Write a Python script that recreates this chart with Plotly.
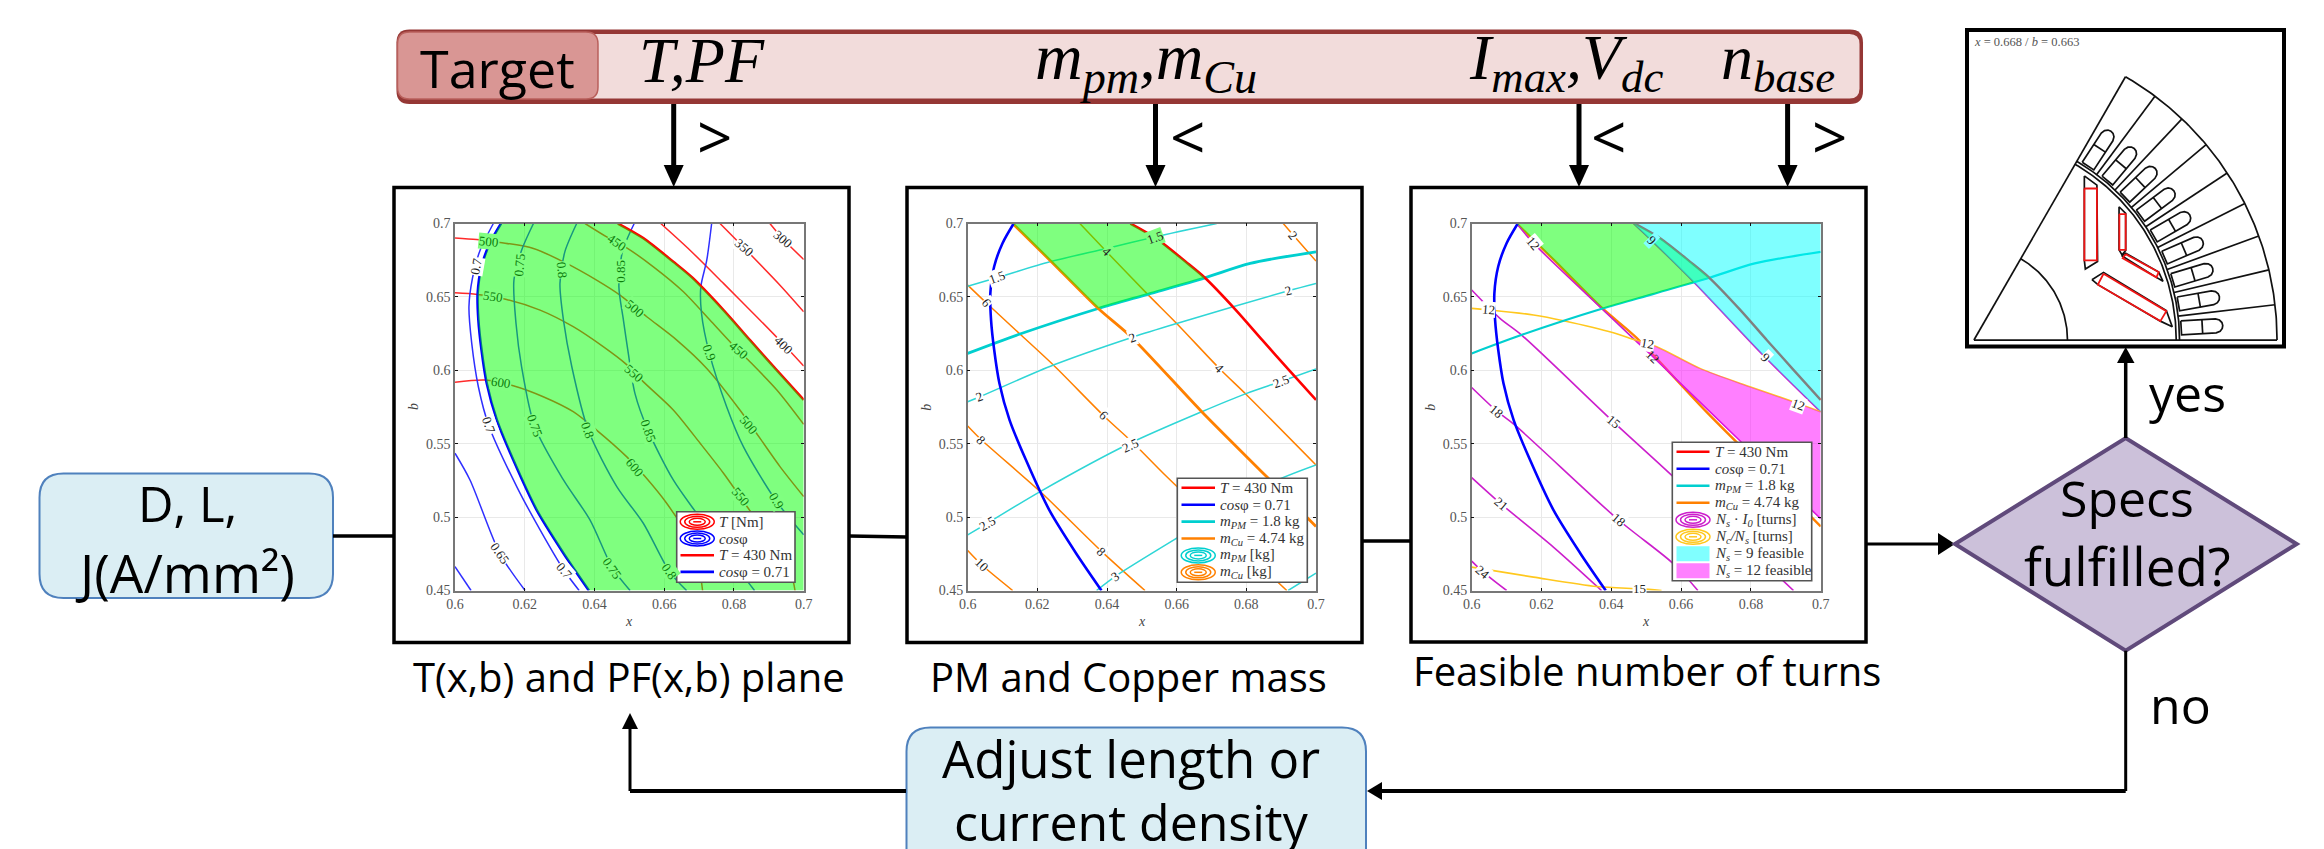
import numpy as np
import plotly.graph_objects as go

W, H = 2324, 849

# ---------- axis labels ----------
x_ticks = [0.6, 0.62, 0.64, 0.66, 0.68, 0.7]
x_tick_text = ["0.6", "0.62", "0.64", "0.66", "0.68", "0.7"]
y_ticks = [0.45, 0.5, 0.55, 0.6, 0.65, 0.7]
y_tick_text = ["0.45", "0.5", "0.55", "0.6", "0.65", "0.7"]

# ---------- shared limit curves ----------
cos71_x = [.6132, .6100, .6076, .6065, .6067, .6076, .6091, .6120, .6167, .6234, .6311, .6384]
cos71_y = [.7, .6866, .6707, .6525, .6344, .6140, .5912, .5662, .5390, .5049, .4754, .45]
t430_x = [.6467, .6540, .6626, .6681, .6770, .6846, .6922, .7]
t430_y = [.7, .690, .6739, .663, .641, .6205, .6003, .5798]
pm18_x = [.6, .615, .6375, .6519, .6681, .6811, .7]
pm18_y = [.6115, .6247, .6421, .6519, .663, .6728, .6807]
cu474_x = [.6129, .6236, .6375, .6471, .6672, .6858, .7]
cu474_y = [.7, .675, .6421, .6224, .5718, .5276, .4936]

# ---------- panel 1: torque contours ----------
t300 = ([.6903, .6942, .7], [.7, .6891, .6755])
t350 = ([.676, .6829, .6932, .7], [.7, .6834, .658, .6399])
t400 = ([.659, .6674, .677, .6865, .6944, .7], [.7, .6818, .6592, .6365, .6172, .6029])
t450 = ([.6373, .6435, .6488, .6569, .6655, .6731, .6793, .6841, .6923, .7],
        [.7, .6909, .6841, .6705, .6535, .6342, .6183, .607, .5866, .5632])
t500 = ([.6, .6062, .6129, .6225, .632, .6406, .6473, .655, .6636, .6722, .6817, .6932, .7],
        [.6902, .6891, .6871, .683, .6728, .6614, .6512, .6365, .6206, .6013, .573, .5344, .514])
t550 = ([.6, .6064, .6148, .6244, .6339, .6425, .6488, .6545, .6626, .6703, .677, .6841, .6913, .6966, .6975],
        [.6528, .6517, .6483, .641, .6297, .6161, .6047, .5911, .573, .5503, .5299, .506, .4822, .4595, .45])
t600 = ([.6, .6086, .6167, .6253, .6339, .6406, .6492, .6545, .6607, .6674, .6698, .671],
        [.5918, .5934, .5895, .582, .5718, .5593, .5412, .5276, .5094, .4845, .4686, .45])
torque_curves = [t300, t350, t400, t450, t500, t550, t600]

# ---------- panel 1: power factor contours ----------
c65a = ([.6, .6043, .6129, .6201], [.5435, .5253, .475, .45])
c65b = ([.6, .6046], [.4663, .45])
c70 = ([.611, .6072, .605, .604, .6048, .6067, .6097, .6177, .6244, .6313, .6356],
       [.7, .6818, .6626, .6433, .6183, .5888, .5623, .5208, .4913, .4636, .45])
c75 = ([.6225, .6191, .6169, .6175, .6191, .6228, .6311, .6387, .6452, .6502],
       [.7, .6818, .6614, .6319, .6024, .5621, .5253, .4981, .4652, .45])
c80 = ([.6349, .6315, .6301, .6311, .6335, .6382, .6464, .654, .6615, .6664],
       [.7, .6807, .6592, .6342, .6024, .5593, .5208, .4958, .4629, .45])
c85 = ([.6514, .648, .647, .6483, .6497, .6516, .6554, .6626, .6693, .677, .6859],
       [.7, .6807, .6569, .6342, .6115, .5843, .5589, .5253, .5026, .4777, .45])
c90 = ([.6736, .6722, .6705, .6707, .6729, .6779, .6827, .6921, .7],
       [.7, .675, .6569, .6387, .612, .5752, .548, .511, .4879])
pf_curves = [c65a, c65b, c70, c75, c80, c85, c90]

# ---------- panel 2: mass contours ----------
cu2 = ([.6906, .6935, .7], [.7, .692, .6744])
cu4 = ([.6322, .6399, .6514, .66, .6724, .6801, .7], [.7, .6807, .6524, .6319, .6009, .5832, .5355])
cu6 = ([.6, .6053, .615, .6246, .6391, .6476, .6571, .6916], [.658, .646, .6247, .6036, .5689, .5503, .5276, .45])
cu8 = ([.6, .604, .6208, .6385, .6509], [.5621, .5525, .5174, .4765, .45])
cu10 = ([.6, .604, .6129], [.4772, .4675, .45])
copper_curves = [cu2, cu4, cu6, cu8, cu10]

pm15 = ([.6, .6083, .6236, .6399, .6538, .6715], [.6573, .663, .6739, .683, .6909, .7])
pm20 = ([.6, .6035, .6246, .6471, .66, .6921, .7], [.5786, .582, .6036, .6224, .6319, .6542, .6592])
pm25 = ([.6, .6056, .6208, .6466, .6672, .6801, .6897, .7], [.4879, .4958, .5174, .5503, .5718, .5843, .5922, .6009])
pm30 = ([.637, .6423, .66, .6858, .7], [.45, .4595, .4856, .5219, .5355])
pm35 = ([.692, .7], [.45, .4618])
magnet_curves = [pm15, pm20, pm25, pm30, pm35]

# ---------- panel 3: turn contours ----------
n9 = ([.6463, .6516, .6635, .6842, .7], [.7, .6882, .6604, .6086, .5717])
n12 = ([.6129, .6177, .6372, .6468, .6511, .6759, .7], [.7, .6866, .6422, .6206, .6111, .5542, .4989])
n15 = ([.6, .6081, .6143, .6406, .6568, .6922], [.6547, .6354, .624, .5649, .5296, .45])
n18 = ([.6, .6072, .6124, .642, .6578, .6648], [.5883, .5722, .5626, .4982, .4682, .45])
n21 = ([.6, .6081, .6234, .6372], [.5269, .5096, .4796, .45])
n24 = ([.6, .6033, .61], [.47, .4625, .45])
turn_curves = [n9, n12, n15, n18, n21, n24]

y12 = ([.6, .6053, .6177, .6263, .6406, .6468, .653, .6654, .6797, .6936, .7],
       [.6422, .6411, .6377, .6338, .6256, .6206, .6161, .6013, .5888, .5774, .5717])
y15 = ([.6, .6177, .6358, .6482, .6544], [.4659, .4591, .4527, .4511, .45])
ratio_curves = [y12, y15]

# ---------- contour labels: text, x, y, angle, text colour, background ----------
G, LG, BK, WH = "#0b7d0b", "#80ff80", "#222222", "#ffffff"
labels_1 = [
    ("500", .6098, .688, 5, G, LG), ("550", .611, .65, 8, G, LG), ("600", .6132, .5916, 8, G, LG),
    ("450", .6464, .6871, 35, G, LG), ("500", .6516, .6422, 40, G, LG), ("550", .6514, .5979, 40, G, LG),
    ("450", .6815, .6138, 40, G, LG), ("500", .6844, .5627, 50, G, LG), ("550", .6819, .514, 50, G, LG),
    ("600", .6516, .5339, 50, G, LG), ("400", .6944, .6172, 45, BK, WH), ("350", .6829, .6834, 40, BK, WH),
    ("300", .6942, .6891, 40, BK, WH), ("0.7", .6059, .671, -80, BK, WH), ("0.7", .6097, .5623, 70, BK, WH),
    ("0.7", .6313, .4636, 50, BK, WH), ("0.65", .6129, .475, 55, BK, WH), ("0.75", .6184, .6716, -85, G, LG),
    ("0.75", .6228, .5621, 70, G, LG), ("0.75", .6452, .4652, 55, G, LG), ("0.8", .6308, .6682, 85, G, LG),
    ("0.8", .6382, .5593, 70, G, LG), ("0.8", .6615, .4629, 55, G, LG), ("0.85", .6476, .6678, -90, G, LG),
    ("0.85", .6554, .5589, 70, G, LG), ("0.9", .6729, .612, 70, G, LG), ("0.9", .6921, .511, 60, G, LG),
]
labels_2 = [
    ("1.5", .6083, .663, -20, BK, WH), ("1.5", .6538, .6905, -20, BK, LG), ("2", .6921, .6542, -15, BK, WH),
    ("2", .6035, .582, -20, BK, WH), ("2.5", .6899, .5922, -20, BK, WH), ("2.5", .6466, .5491, -25, BK, WH),
    ("2.5", .6056, .4958, -30, BK, WH), ("3", .6423, .4595, -35, BK, WH), ("2", .6935, .692, 50, BK, WH),
    ("4", .6399, .6807, 45, BK, LG), ("4", .6724, .6013, 45, BK, WH), ("6", .6053, .646, 50, BK, WH),
    ("2", .6473, .6224, -20, BK, WH), ("6", .6391, .5689, 45, BK, WH), ("8", .604, .5525, 45, BK, WH),
    ("8", .6383, .4765, 45, BK, WH), ("10", .604, .4675, 45, BK, WH),
]
labels_3 = [
    ("12", .6177, .6866, 50, BK, WH), ("9", .6516, .6882, 45, BK, "#80ffff"), ("9", .6842, .6086, 45, BK, WH),
    ("12", .6936, .5769, 20, BK, WH), ("12", .6503, .6183, 10, BK, WH), ("12", .6518, .6092, 45, BK, "rgba(0,0,0,0)"),
    ("12", .6048, .6411, 5, BK, WH), ("15", .6406, .5649, 40, BK, WH), ("18", .6072, .5722, 40, BK, WH),
    ("18", .642, .4982, 40, BK, WH), ("21", .6084, .5096, 40, BK, WH), ("24", .6033, .4625, 40, BK, WH),
    ("15", .6482, .4511, 0, BK, WH),
]

# ---------- motor cross-section ----------
motor_r_outer, motor_r_stator, motor_r_rotor, motor_r_shaft = 917, 622, 612, 283
slot_u = [628, 733, 745, 752, 754, 752, 745, 733, 628, 628]
slot_v = [21, 21, 17, 9, 0, -9, -17, -21, -21, 21]
slot_div = 692
pockets = [
    ([334, 372, 374, 337, 334, 334], [495, 467, 237, 214, 240, 495]),
    ([357, 392, 582, 600, 564, 375, 357], [182, 204, 89, 40, 57, 167, 182]),
    ([439, 459, 459, 448, 439, 439], [402, 382, 270, 257, 272, 402]),
    ([447, 459, 559, 572, 552, 447], [254, 262, 205, 177, 189, 254]),
]
magnets = [
    ([334, 372, 372, 334, 334], [457, 457, 240, 240, 457]),
    ([392, 582, 564, 375, 392], [200, 87, 57, 167, 200]),
    ([440, 459, 459, 440, 440], [380, 380, 272, 272, 380]),
    ([459, 559, 552, 450, 459], [259, 205, 189, 247, 259]),
]

# ---------- colours ----------
RED, BLUE, CYAN, ORANGE, MAG, YEL = "#ff0000", "#0000ff", "#00cfcf", "#ff8000", "#cc1fcc", "#ffc81e"
THIN_BLUE, THIN_CYAN, THIN_RED = "#2f2fff", "#2fd6d6", "#ff2a2a"
SERIF = "Liberation Serif"
SANS = "Open Sans"


def fx(v):
    return v / W


def fy(v):
    return 1 - v / H


fig = go.Figure()
shapes = []
annos = []


def txt(x, y, s, size, color="#000000", font=SANS, anchor="center", angle=0):
    annos.append(dict(x=fx(x), y=fy(y), xref="paper", yref="paper", text=s, showarrow=False,
                      xanchor=anchor, yanchor="middle", textangle=angle, align="center",
                      font=dict(size=size, color=color, family=font)))


def line(x0, y0, x1, y1, w=3.5, color="#000000"):
    shapes.append(dict(type="line", xref="paper", yref="paper", x0=fx(x0), y0=fy(y0), x1=fx(x1), y1=fy(y1),
                       line=dict(color=color, width=w)))


def rect(x0, y0, x1, y1, fill=None, lc="#000000", w=3.5, layer="above"):
    shapes.append(dict(type="rect", xref="paper", yref="paper", x0=fx(x0), y0=fy(y0), x1=fx(x1), y1=fy(y1),
                       fillcolor=fill if fill else "rgba(0,0,0,0)", line=dict(color=lc, width=w), layer=layer))


def poly(points, fill, lc=None, w=0):
    p = "M " + " L ".join(f"{fx(a):.5f},{fy(b):.5f}" for a, b in points) + " Z"
    shapes.append(dict(type="path", xref="paper", yref="paper", path=p, fillcolor=fill,
                       line=dict(color=lc if lc else fill, width=w)))


def rrect(x0, y0, x1, y1, r, fill, lc, w):
    def P(a, b):
        return f"{fx(a):.5f},{fy(b):.5f}"
    p = (f"M {P(x0 + r, y0)} L {P(x1 - r, y0)} Q {P(x1, y0)} {P(x1, y0 + r)} L {P(x1, y1 - r)} "
         f"Q {P(x1, y1)} {P(x1 - r, y1)} L {P(x0 + r, y1)} Q {P(x0, y1)} {P(x0, y1 - r)} "
         f"L {P(x0, y0 + r)} Q {P(x0, y0)} {P(x0 + r, y0)} Z")
    shapes.append(dict(type="path", xref="paper", yref="paper", path=p, fillcolor=fill,
                       line=dict(color=lc, width=w)))


def ellipse_icon(cx, cy, color):
    for rx, ry in [(17, 7.5), (12.5, 5.5), (8, 3.5)]:
        shapes.append(dict(type="circle", xref="paper", yref="paper", x0=fx(cx - rx), x1=fx(cx + rx),
                           y0=fy(cy + ry), y1=fy(cy - ry), line=dict(color=color, width=1.5)))
    line(cx - 4, cy, cx + 4, cy, 1.5, color)


# ---------- axes ----------
panels = [(455, 803.7), (967.7, 1316), (1471.7, 1820.7)]
top, bottom = 223.5, 590.5
layout_axes = {}
for i, (l, r) in enumerate(panels):
    n = "" if i == 0 else str(i + 1)
    layout_axes[f"xaxis{n}"] = dict(
        domain=[fx(l), fx(r)], range=[0.6, 0.7], tickvals=x_ticks, ticktext=x_tick_text, anchor=f"y{n}",
        ticks="inside", ticklen=3, tickcolor="#111111", mirror="ticks", showline=True, linecolor="#777777",
        linewidth=1.5, showgrid=True, gridcolor="#e9e9e9", gridwidth=1, zeroline=False, tickangle=0,
        automargin=False, tickfont=dict(family=SERIF, size=14, color="#555555"))
    layout_axes[f"yaxis{n}"] = dict(
        domain=[fy(bottom), fy(top)], range=[0.45, 0.7], tickvals=y_ticks, ticktext=y_tick_text, anchor=f"x{n}",
        ticks="inside", ticklen=3, tickcolor="#111111", mirror="ticks", showline=True, linecolor="#777777",
        linewidth=1.5, showgrid=True, gridcolor="#e9e9e9", gridwidth=1, zeroline=False,
        automargin=False, tickfont=dict(family=SERIF, size=14, color="#555555"))
    txt((l + r) / 2, 621.5, "<i>x</i>", 14, "#444444", SERIF)
    txt(l - 42, 407, "<i>b</i>", 14, "#444444", SERIF, angle=-90)
layout_axes["xaxis4"] = dict(domain=[fx(1968), fx(2283)], range=[-18, 935], visible=False, anchor="y4", automargin=False)
layout_axes["yaxis4"] = dict(domain=[fy(346), fy(31)], range=[-18, 932], visible=False, anchor="x4", automargin=False)


def curve(ax, xs, ys, color, w):
    fig.add_trace(go.Scatter(x=xs, y=ys, mode="lines", xaxis=f"x{ax}", yaxis=f"y{ax}",
                             line=dict(color=color, width=w, shape="spline", smoothing=0.8),
                             hoverinfo="skip", showlegend=False))


def fill(ax, xs, ys, color):
    fig.add_trace(go.Scatter(x=xs, y=ys, mode="lines", fill="toself", fillcolor=color, xaxis=f"x{ax}",
                             yaxis=f"y{ax}", line=dict(width=0), hoverinfo="skip", showlegend=False))


# panel 1
for xs, ys in torque_curves:
    curve("", xs, ys, THIN_RED, 1.5)
for xs, ys in pf_curves:
    curve("", xs, ys, THIN_BLUE, 1.5)
curve("", t430_x, t430_y, RED, 2.6)
curve("", cos71_x, cos71_y, BLUE, 2.6)
fill("", cos71_x + [.7, .7] + t430_x[::-1], cos71_y + [.45, t430_y[-1]] + t430_y[::-1], "rgba(0,255,0,0.5)")

# green feasible polygon of panels 2 and 3
gx = cu474_x[:3] + pm18_x[3:5] + t430_x[:3][::-1]
gy = cu474_y[:3] + pm18_y[3:5] + t430_y[:3][::-1]

# panel 2
for xs, ys in copper_curves:
    curve("2", xs, ys, ORANGE, 1.5)
for xs, ys in magnet_curves:
    curve("2", xs, ys, THIN_CYAN, 1.5)
curve("2", pm18_x, pm18_y, CYAN, 2.8)
curve("2", cu474_x, cu474_y, ORANGE, 2.8)
curve("2", cos71_x, cos71_y, BLUE, 2.6)
curve("2", t430_x, t430_y, RED, 2.6)
fill("2", gx, gy, "rgba(0,255,0,0.5)")

# panel 3
curve("3", cu474_x, cu474_y, ORANGE, 2.4)
for xs, ys in turn_curves:
    curve("3", xs, ys, MAG, 1.6)
for xs, ys in ratio_curves:
    curve("3", xs, ys, YEL, 1.6)
curve("3", pm18_x, pm18_y, CYAN, 2.2)
curve("3", cos71_x, cos71_y, BLUE, 2.6)
curve("3", t430_x, t430_y, RED, 2.4)
fill("3", gx, gy, "rgba(0,255,0,0.5)")
fill("3", n9[0] + [.7], n9[1] + [.7], "rgba(0,255,255,0.5)")
fill("3", y12[0][5:] + n12[0][3:][::-1], y12[1][5:] + n12[1][3:][::-1], "rgba(255,0,255,0.5)")


# contour labels
for ax, labs in (("", labels_1), ("2", labels_2), ("3", labels_3)):
    for s, xv, yv, ang, col, bg in labs:
        annos.append(dict(x=xv, y=yv, xref=f"x{ax}", yref=f"y{ax}", text=s, showarrow=False, textangle=ang,
                          bgcolor=bg, borderpad=0, font=dict(family=SERIF, size=13, color=col)))


# motor
def motor(xs, ys, color="#111111", w=1.7):
    fig.add_trace(go.Scatter(x=xs, y=ys, mode="lines", xaxis="x4", yaxis="y4", line=dict(color=color, width=w),
                             hoverinfo="skip", showlegend=False))


theta = np.radians(np.linspace(0, 60, 121))
for r in (motor_r_outer, motor_r_stator, motor_r_rotor, motor_r_shaft):
    motor(r * np.cos(theta), r * np.sin(theta))
motor([0, motor_r_outer], [0, 0])
motor([0, motor_r_outer * np.cos(np.radians(60))], [0, motor_r_outer * np.sin(np.radians(60))])
pitch = 60 / 9
for k in range(1, 9):
    a = np.radians(k * pitch)
    motor([motor_r_stator * np.cos(a), motor_r_outer * np.cos(a)],
          [motor_r_stator * np.sin(a), motor_r_outer * np.sin(a)])
su, sv = np.array(slot_u, float), np.array(slot_v, float)
for k in range(9):
    a = np.radians((k + 0.5) * pitch)
    motor(su * np.cos(a) - sv * np.sin(a), su * np.sin(a) + sv * np.cos(a))
    motor([slot_div * np.cos(a) + 21 * np.sin(a), slot_div * np.cos(a) - 21 * np.sin(a)],
          [slot_div * np.sin(a) - 21 * np.cos(a), slot_div * np.sin(a) + 21 * np.cos(a)])
for xs, ys in pockets:
    motor(xs, ys)
for xs, ys in magnets:
    motor(xs, ys, "#f01414", 1.8)

# ---------- legends ----------
ROW_1 = [("icon", RED, "<i>T</i> [Nm]"), ("icon", BLUE, "<i>cos</i>φ"),
         ("line", RED, "<i>T</i> = 430 Nm"), ("line", BLUE, "<i>cos</i>φ = 0.71")]
ROW_2 = [("line", RED, "<i>T</i> = 430 Nm"), ("line", BLUE, "<i>cos</i>φ = 0.71"),
         ("line", CYAN, "<i>m<sub>PM</sub></i> = 1.8 kg"), ("line", ORANGE, "<i>m<sub>Cu</sub></i> = 4.74 kg"),
         ("icon", CYAN, "<i>m<sub>PM</sub></i> [kg]"), ("icon", ORANGE, "<i>m<sub>Cu</sub></i> [kg]")]
ROW_3 = [("line", RED, "<i>T</i> = 430 Nm"), ("line", BLUE, "<i>cos</i>φ = 0.71"),
         ("line", CYAN, "<i>m<sub>PM</sub></i> = 1.8 kg"), ("line", ORANGE, "<i>m<sub>Cu</sub></i> = 4.74 kg"),
         ("icon", MAG, "<i>N<sub>s</sub></i> · <i>I<sub>0</sub></i> [turns]"),
         ("icon", YEL, "<i>N<sub>c</sub>/N<sub>s</sub></i> [turns]"),
         ("patch", "#80ffff", "<i>N<sub>s</sub></i> = 9 feasible"), ("patch", "#ff80ff", "<i>N<sub>s</sub></i> = 12 feasible")]


def legend(x0, y0, x1, y1, rows, first, step, lx0, lx1, tx):
    rect(x0, y0, x1, y1, "#ffffff", "#555555", 1.6)
    for i, (kind, col, s) in enumerate(rows):
        y = first + i * step
        if kind == "line":
            line(lx0, y, lx1, y, 2.6, col)
        elif kind == "icon":
            ellipse_icon((lx0 + lx1) / 2, y, col)
        else:
            rect(lx0, y - 7.5, lx1, y + 7.5, col, col, 0)
        txt(tx, y, s, 15, "#333333", SERIF, anchor="left")


legend(676.7, 511.7, 795, 582.3, ROW_1, 521.8, 16.7, 680.5, 714, 716.5)
legend(1177.3, 478.3, 1307.3, 582.3, ROW_2, 487.8, 16.9, 1181.5, 1215, 1217.5)
legend(1672.3, 442.3, 1811.7, 580.7, ROW_3, 451.8, 17.0, 1676.5, 1709.5, 1712.5)

# ---------- diagram boxes ----------
rect(394, 187.5, 849, 642.5)
rect(907, 187.5, 1362, 642.5)
rect(1411, 187.5, 1866, 642)
rect(1967, 30, 2284, 346.5, None, "#000000", 4)
txt(1972, 42, "<i>x</i> = 0.668 / <i>b</i> = 0.663", 12.5, "#555555", SERIF, anchor="left")

rrect(396.5, 29.5, 1863, 104, 13, "#953735", "#953735", 0)
rrect(400, 34, 1859.5, 98.5, 10, "#f2dcdb", "#f2dcdb", 0)
rrect(397.5, 32, 598, 99, 12, "#d99694", "#b9605c", 1.5)
txt(497, 67, "Target", 52)
txt(702, 60, "<i>T,PF</i>", 64, font=SERIF)
txt(1146, 62, "<i>m<sub>pm</sub>,m<sub>Cu</sub></i>", 66, font=SERIF)
txt(1566, 62, "<i>I<sub>max</sub>,V<sub>dc</sub></i>", 64, font=SERIF)
txt(1778, 62, "<i>n<sub>base</sub></i>", 64, font=SERIF)


def arrow_down(x):
    line(x, 104, x, 168, 5)
    poly([(x - 10, 165), (x + 10, 165), (x, 187)], "#000000")


for ax_x in (673.7, 1155.5, 1579, 1787.6):
    arrow_down(ax_x)
txt(714, 136, "&gt;", 62)
txt(1187.5, 136, "&lt;", 62)
txt(1608, 136, "&lt;", 62)
txt(1829, 136, "&gt;", 62)

rrect(39.5, 473.5, 333, 598, 24, "#dbeef4", "#4f81bd", 2)
txt(187, 503, "D, L,", 49)
txt(185, 572, "J(A/mm²)", 53)
line(333, 536, 394, 536)
line(849, 536, 907, 537)
line(1362, 541, 1411, 541)
line(1866, 544, 1940, 544, 3)
poly([(1938, 533), (1955, 544), (1938, 555)], "#000000")

poly([(1955, 544), (2125.7, 438), (2296.7, 544), (2125.7, 650.7)], "#ccc1da", "#604a7b", 4)
txt(2127, 498, "Specs", 50)
txt(2127, 565, "fulfilled?", 53)

line(2125.7, 438, 2125.7, 360, 3.5)
poly([(2117, 363), (2134.5, 363), (2125.7, 347)], "#000000")
txt(2187, 393, "yes", 50)
txt(2180, 705, "no", 50)

line(2125.7, 650.7, 2125.7, 791, 3)
line(2125.7, 791, 1378, 791, 4)
poly([(1382, 782), (1382, 800), (1367, 791)], "#000000")
rrect(906.5, 727.5, 1366, 880, 24, "#dbeef4", "#4f81bd", 2)
line(906, 791, 630, 791, 4)
line(630, 791, 630, 725, 3)
poly([(622, 729), (638, 729), (630, 713)], "#000000")
txt(1131, 758, "Adjust length or", 51)
txt(1131, 822, "current density", 50)

txt(629.5, 676, "T(x,b) and PF(x,b) plane", 40)
txt(1128, 676, "PM and Copper mass", 40)
txt(1647, 670, "Feasible number of turns", 40)

fig.update_layout(width=W, height=H, margin=dict(l=0, r=0, t=0, b=0, autoexpand=False), paper_bgcolor="#ffffff",
                  plot_bgcolor="rgba(0,0,0,0)", showlegend=False, shapes=shapes, annotations=annos, **layout_axes)
fig.write_html("out.html", config=dict(displayModeBar=False, responsive=False),
               post_script="document.body.style.margin='0';document.body.style.overflow='hidden';")
